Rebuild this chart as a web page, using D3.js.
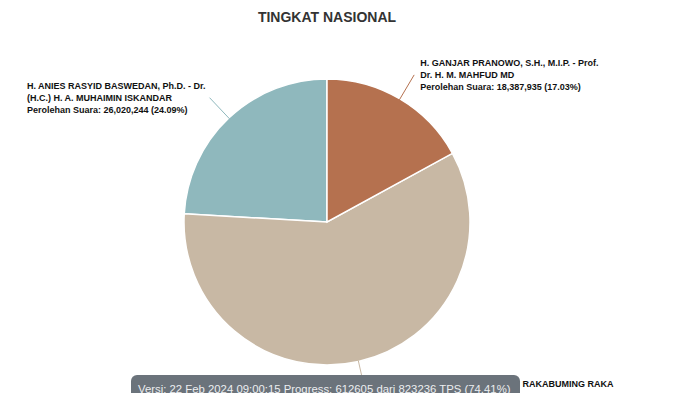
<!DOCTYPE html>
<html>
<head>
<meta charset="utf-8">
<script src="https://cdn.jsdelivr.net/npm/d3@7"></script>
<style>
  body { margin: 0; background: #fff; }
  svg { display: block; font-family: "Liberation Sans", Arial, Helvetica, sans-serif; }
</style>
</head>
<body>
<svg id="chart" width="700" height="393"></svg>
<script>
// data
var candidates = [
  ["H. ANIES RASYID BASWEDAN, Ph.D. - Dr.", "(H.C.) H. A. MUHAIMIN ISKANDAR"],
  ["H. PRABOWO SUBIANTO - GIBRAN RAKABUMING RAKA"],
  ["H. GANJAR PRANOWO, S.H., M.I.P. - Prof.", "Dr. H. M. MAHFUD MD"]
];
var votes = [26020244, 63592316, 18387935];
var percents = ["24.09%", "58.88%", "17.03%"];
var colors = ["#8fb8bd", "#c8b8a4", "#b5714f"];
var title = "TINGKAT NASIONAL";
var footer = "Versi: 22 Feb 2024 09:00:15 Progress: 612605 dari 823236 TPS (74.41%)";

var dataset = candidates.map(function(c, i) {
  return { lines: c, count: votes[i], pct: percents[i], color: colors[i] };
});

// dimensions
var width = 700, height = 393;
var cx = 327, cy = 222;
var radius = 143;
var lineRadius = 171;

var svg = d3.select('#chart');

// title
svg.append('text')
  .attr('x', cx)
  .attr('y', 22)
  .attr('text-anchor', 'middle')
  .attr('font-size', 14)
  .attr('font-weight', 'bold')
  .attr('fill', '#333')
  .text(title);

var g = svg.append('g')
  .attr('transform', 'translate(' + cx + ',' + cy + ')');

// counter clockwise from 12 o'clock
var pie = d3.pie()
  .value(function(d) { return d.count; })
  .sort(null)
  .startAngle(0)
  .endAngle(-2 * Math.PI);

var arc = d3.arc().innerRadius(0).outerRadius(radius);

var arcs = pie(dataset);

g.selectAll('path')
  .data(arcs)
  .enter()
  .append('path')
  .attr('d', arc)
  .attr('fill', function(d) { return d.data.color; })
  .attr('stroke', '#fff')
  .attr('stroke-width', 1.5);

// labels
function point(a, r) { return [Math.sin(a) * r, -Math.cos(a) * r]; }

arcs.forEach(function(d) {
  var mid = (d.startAngle + d.endAngle) / 2;
  var p1 = point(mid, radius - 1);
  var p2 = point(mid, lineRadius);
  g.append('line')
    .attr('x1', p1[0]).attr('y1', p1[1])
    .attr('x2', p2[0]).attr('y2', p2[1])
    .attr('stroke', d.data.color)
    .attr('stroke-width', 1);

  var lines = d.data.lines.concat(["Perolehan Suara: " + d3.format(",")(d.data.count) + " (" + d.data.pct + ")"]);
  var right = p2[0] > 0;
  var bottom = p2[1] > 0;
  var lh = bottom ? 14 : 12;
  var label = g.append('text')
    .attr('font-size', 9)
    .attr('font-weight', 'bold')
    .attr('fill', '#111');
  lines.forEach(function(t, i) {
    label.append('tspan').attr('x', 0).attr('y', i * lh).text(t);
  });
  var w = 0;
  label.selectAll('tspan').each(function() { w = Math.max(w, this.getComputedTextLength()); });
  var x = right ? p2[0] + (bottom ? 3 : 6) : p2[0] - 4 - w;
  var y0 = bottom ? p2[1] - 2 : p2[1] - lh + 3;
  label.attr('transform', 'translate(' + x + ',' + y0 + ')');
});

// footer tooltip
var tip = svg.append('g');
tip.append('rect')
  .attr('x', 131).attr('y', 375)
  .attr('width', 389).attr('height', 30)
  .attr('rx', 6)
  .attr('fill', '#6b737b');
var ft = tip.append('text')
  .attr('x', 138).attr('y', 392.5)
  .attr('font-size', 12)
  .attr('fill', '#eceef0')
  .text(footer);
// shrink to fit inside the box
var fw = ft.node().getComputedTextLength();
ft.attr('font-size', 12 * 373 / fw);
</script>
</body>
</html>
